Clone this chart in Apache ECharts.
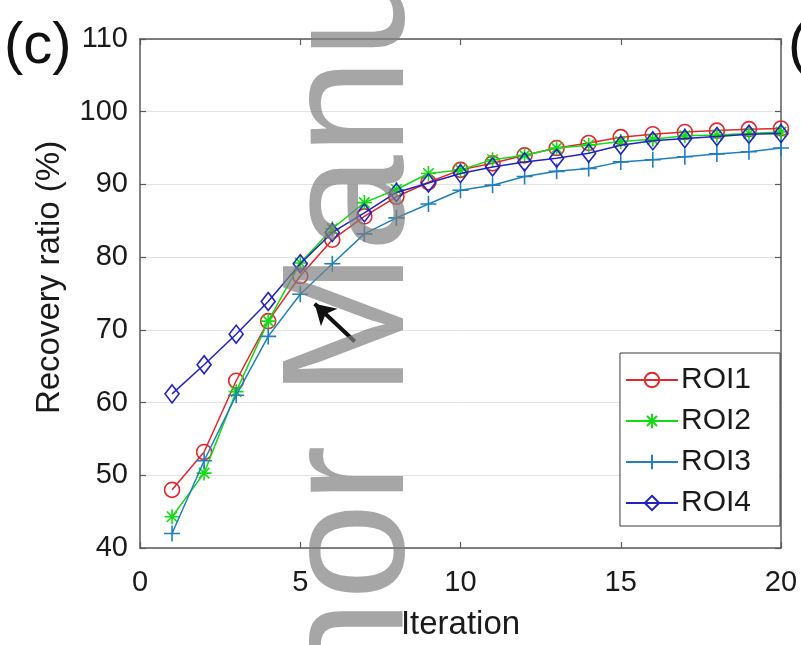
<!DOCTYPE html>
<html>
<head>
<meta charset="utf-8">
<script src="https://cdn.jsdelivr.net/npm/echarts@6/dist/echarts.min.js"></script>
<style>
  html, body { margin: 0; padding: 0; background: #fff; }
  #chart { width: 801px; height: 645px; }
</style>
</head>
<body>
<div id="chart"></div>
<script>
// Recovery ratio per iteration for four regions of interest
const iterations = [1, 2, 3, 4, 5, 6, 7, 8, 9, 10, 11, 12, 13, 14, 15, 16, 17, 18, 19, 20];
const roi1 = [48.0, 53.2, 63.0, 71.2, 77.4, 82.4, 85.6, 88.3, 90.3, 92.0, 92.9, 94.0, 95.0, 95.7, 96.5, 96.9, 97.2, 97.4, 97.6, 97.7];
const roi2 = [44.3, 50.3, 61.5, 71.2, 79.2, 83.9, 87.5, 89.3, 91.5, 92.0, 93.4, 94.0, 95.0, 95.4, 95.9, 96.2, 96.7, 96.8, 97.0, 97.2];
const roi3 = [42.0, 52.0, 61.0, 69.1, 74.9, 79.1, 83.2, 85.4, 87.3, 89.2, 89.9, 91.1, 91.8, 92.2, 93.1, 93.4, 93.8, 94.2, 94.5, 95.0];
const roi4 = [61.2, 65.2, 69.4, 73.9, 79.1, 83.4, 86.1, 88.9, 90.2, 91.5, 92.4, 93.1, 93.6, 94.3, 95.4, 96.0, 96.3, 96.6, 96.9, 97.0];
const seriesNames = ['ROI1', 'ROI2', 'ROI3', 'ROI4'];

// Axis ranges and tick steps
const xRange = [0, 20], xStep = 5;
const yRange = [40, 110], yStep = 10;

// Arrow annotation (tail -> head) in data coordinates
const arrowTail = [6.7, 68.4];
const arrowHead = [5.45, 73.6];

const FONT = "'Liberation Sans', Arial, Helvetica, sans-serif";
const AXIS_COLOR = '#5a5a5a';

const colors = ['#e3262b', '#14dc14', '#1f7fbf', '#2222c0'];
const plusPath = 'path://M5,0L5,10M0,5L10,5';
const starPath = 'path://M5,0L5,10M0,5L10,5M1.5,1.5L8.5,8.5M1.5,8.5L8.5,1.5';
const symbols = ['circle', starPath, plusPath, 'diamond'];
const symbolSizes = [15, 15, 16, [14, 18]];
const values = [roi1, roi2, roi3, roi4];

const pairs = v => iterations.map((it, i) => [it, v[i]]);

const series = values.map((v, k) => ({
  name: seriesNames[k],
  type: 'line',
  data: pairs(v),
  symbol: symbols[k],
  symbolSize: symbolSizes[k],
  showSymbol: true,
  animation: false,
  lineStyle: { color: colors[k], width: 1.5 },
  itemStyle: { color: 'rgba(0,0,0,0)', borderColor: colors[k], borderWidth: 1.6 },
  emphasis: { disabled: true },
  z: 2 + k
}));

// arrow pointing at the ROI3 curve
series[2].markLine = {
  silent: true,
  animation: false,
  symbol: ['none', 'arrow'],
  symbolSize: [18, 20],
  label: { show: false },
  lineStyle: { color: '#111', width: 4, type: 'solid' },
  data: [[{ coord: arrowTail }, { coord: arrowHead }]]
};

const boxAxis = (pos) => ({
  type: 'value',
  position: pos,
  min: pos === 'top' ? xRange[0] : yRange[0],
  max: pos === 'top' ? xRange[1] : yRange[1],
  interval: pos === 'top' ? xStep : yStep,
  axisLine: { show: true, onZero: false, lineStyle: { color: AXIS_COLOR, width: 1.5 } },
  axisTick: { show: true, inside: true, length: 6, lineStyle: { color: AXIS_COLOR, width: 1.2 } },
  axisLabel: { show: false },
  splitLine: { show: false }
});

const option = {
  backgroundColor: '#fff',
  animation: false,
  grid: { left: 140, right: 20, top: 39, bottom: 97, outerBoundsMode: 'none' },
  xAxis: [{
    type: 'value',
    min: xRange[0], max: xRange[1], interval: xStep,
    name: 'Iteration',
    nameLocation: 'middle',
    nameGap: 60,
    nameTextStyle: { fontFamily: FONT, fontSize: 33, color: '#1a1a1a' },
    axisLine: { show: true, onZero: false, lineStyle: { color: AXIS_COLOR, width: 1.5 } },
    axisTick: { show: true, inside: true, length: 6, lineStyle: { color: AXIS_COLOR, width: 1.2 } },
    axisLabel: { fontFamily: FONT, fontSize: 29, color: '#1a1a1a', margin: 20 },
    splitLine: { show: false }
  }, boxAxis('top')],
  yAxis: [{
    type: 'value',
    min: yRange[0], max: yRange[1], interval: yStep,
    name: 'Recovery ratio (%)',
    nameLocation: 'middle',
    nameGap: 74,
    nameTextStyle: { fontFamily: FONT, fontSize: 33, color: '#1a1a1a', padding: [0, 0, 0, 32] },
    axisLine: { show: true, onZero: false, lineStyle: { color: AXIS_COLOR, width: 1.5 } },
    axisTick: { show: true, inside: true, length: 6, lineStyle: { color: AXIS_COLOR, width: 1.2 } },
    axisLabel: { fontFamily: FONT, fontSize: 29, color: '#1a1a1a', margin: 12 },
    splitLine: { show: true, lineStyle: { color: '#e3e3e3', width: 1 } }
  }, boxAxis('right')],
  legend: {
    orient: 'vertical',
    right: 21,
    top: 353,
    data: seriesNames,
    selectedMode: false,
    backgroundColor: '#fff',
    borderColor: '#3a3a3a',
    borderWidth: 1,
    padding: [12, 29, 8, 5],
    itemWidth: 52,
    itemHeight: 18,
    itemGap: 11,
    textStyle: { fontFamily: FONT, fontSize: 30, color: '#1a1a1a', padding: [0, 0, 0, -2] }
  },
  graphic: [
    { type: 'text', x: 4, y: 47, z: 10,
      style: { text: '(c)', font: `58px ${FONT}`, fill: '#111', align: 'left', verticalAlign: 'middle' } },
    { type: 'text', x: 788, y: 47, z: 10,
      style: { text: '(d)', font: `58px ${FONT}`, fill: '#111', align: 'left', verticalAlign: 'middle' } },
    { type: 'text', x: 355, y: 958, rotation: Math.PI / 2, z: 100, silent: true,
      style: { text: 'Author Manuscript', font: `174px ${FONT}`, fill: 'rgba(128,128,128,0.7)', align: 'left', verticalAlign: 'middle' } }
  ],
  series: series
};

const chart = echarts.init(document.getElementById('chart'), null, { renderer: 'canvas' });
chart.setOption(option);
</script>
</body>
</html>
